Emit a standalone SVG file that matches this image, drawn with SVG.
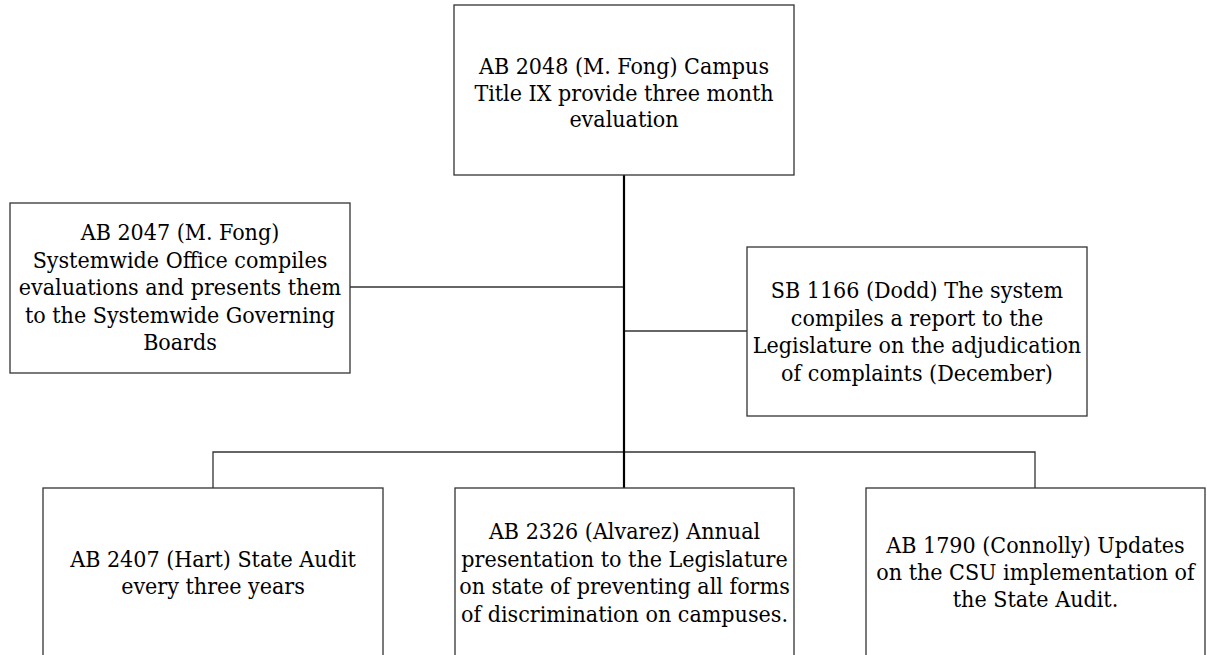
<svg xmlns="http://www.w3.org/2000/svg" width="1207" height="655" viewBox="0 0 1207 655">
<style>
.box{fill:#fff;stroke:#333;stroke-width:1.3}
.lbl{font-family:"DejaVu Serif Condensed","DejaVu Serif",serif;font-stretch:condensed;font-size:23px;fill:#000;text-anchor:middle}
.br{stroke:#333;stroke-width:1.3;fill:none}
.trunk{stroke:#000;stroke-width:2.2;fill:none}
</style>
<rect width="1207" height="655" fill="#fff"/>
<g id="connectors">
<line class="br" x1="350" y1="287" x2="624" y2="287"/>
<line class="br" x1="624" y1="331" x2="747" y2="331"/>
<polyline class="br" points="213,488 213,452 1035,452 1035,488"/>
<line class="trunk" x1="624" y1="175" x2="624" y2="488"/>
</g>
<g id="n_ab2048">
<rect class="box" x="454" y="5" width="340" height="170"/>
<text class="lbl"><tspan x="624" y="74">AB 2048 (M. Fong) Campus</tspan><tspan x="624" y="100.5">Title IX provide three month</tspan><tspan x="624" y="127">evaluation</tspan></text>
</g>
<g id="n_ab2047">
<rect class="box" x="10" y="203" width="340" height="170"/>
<text class="lbl"><tspan x="180" y="240">AB 2047 (M. Fong)</tspan><tspan x="180" y="267.5">Systemwide Office compiles</tspan><tspan x="180" y="295">evaluations and presents them</tspan><tspan x="180" y="322.5">to the Systemwide Governing</tspan><tspan x="180" y="350">Boards</tspan></text>
</g>
<g id="n_sb1166">
<rect class="box" x="747" y="247" width="340" height="169"/>
<text class="lbl"><tspan x="917" y="298">SB 1166 (Dodd) The system</tspan><tspan x="917" y="325.5">compiles a report to the</tspan><tspan x="917" y="353">Legislature on the adjudication</tspan><tspan x="917" y="380.5">of complaints (December)</tspan></text>
</g>
<g id="n_ab2407">
<rect class="box" x="43" y="488" width="340" height="170"/>
<text class="lbl"><tspan x="213" y="567">AB 2407 (Hart) State Audit</tspan><tspan x="213" y="593.5">every three years</tspan></text>
</g>
<g id="n_ab2326">
<rect class="box" x="455" y="488" width="339" height="170"/>
<text class="lbl"><tspan x="624.5" y="539">AB 2326 (Alvarez) Annual</tspan><tspan x="624.5" y="566.5">presentation to the Legislature</tspan><tspan x="624.5" y="594">on state of preventing all forms</tspan><tspan x="624.5" y="621.5">of discrimination on campuses.</tspan></text>
</g>
<g id="n_ab1790">
<rect class="box" x="866" y="488" width="339" height="170"/>
<text class="lbl"><tspan x="1035.5" y="553">AB 1790 (Connolly) Updates</tspan><tspan x="1035.5" y="580">on the CSU implementation of</tspan><tspan x="1035.5" y="607">the State Audit.</tspan></text>
</g>
</svg>
